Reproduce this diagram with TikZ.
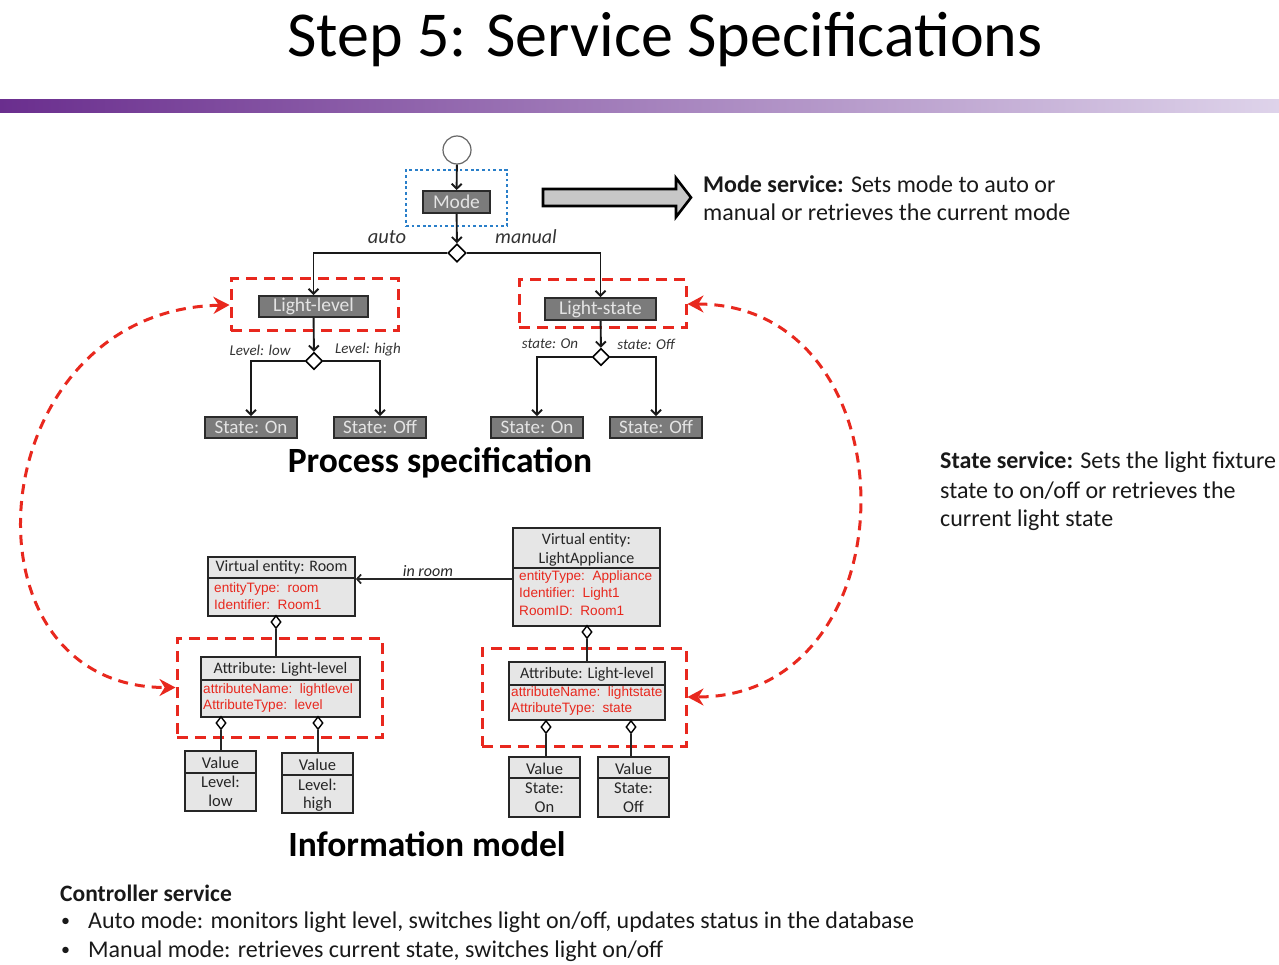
\documentclass[tikz,border=0pt]{standalone}
\usepackage{fontspec}
\setmainfont{Carlito}
\newfontfamily\attrfont{Liberation Sans}
\usetikzlibrary{arrows.meta,shapes.geometric,calc}

\definecolor{procfill}{HTML}{7B7B7B}
\definecolor{procline}{HTML}{2B2B2B}
\definecolor{proctext}{HTML}{E4E4E4}
\definecolor{umlfill}{HTML}{E6E6E6}
\definecolor{svcred}{HTML}{E8281E}
\definecolor{svcblue}{HTML}{2A7FC9}
\definecolor{barleft}{HTML}{6A2E8E}
\definecolor{barmid}{HTML}{9872B2}
\definecolor{barright}{HTML}{DED3EA}

\newcommand\fsz[2]{\fontsize{#1}{#2}\selectfont}

\begin{document}
\begin{tikzpicture}[x=1pt,y=-1pt,
  procbox/.style={draw=procline, fill=procfill, line width=1.8pt, text=proctext,
    font=\fsz{19.5}{21}, inner sep=0pt},
  dec/.style={diamond, draw=black, fill=white, line width=1.6pt,
    minimum width=17, minimum height=17, inner sep=0pt},
  flow/.style={draw=black!90, line width=1.9pt, -{Straight Barb[length=5pt,width=10pt]}},
  redbox/.style={draw=svcred, line width=3pt, dash pattern=on 11pt off 7pt, inner sep=0pt},
  bluebox/.style={draw=svcblue, line width=2.8pt, dash pattern=on 2.8pt off 2.8pt, inner sep=0pt},
  umlbox/.style={draw=black!85, fill=umlfill, line width=1.8pt, inner sep=0pt},
  umlsep/.style={draw=black!85, line width=1.6pt},
  agg/.style={diamond, draw=black, fill=white, line width=1.4pt,
    minimum width=10, minimum height=13, inner sep=0pt},
  link/.style={draw=black!85, line width=1.7pt},
  umlhead/.style={font=\fsz{16}{18}, text=black!85, inner sep=0pt},
  valtext/.style={font=\fsz{16.5}{18}, text=black!85, inner sep=0pt},
  umlattr/.style={font=\attrfont\fsz{13.6}{15}, text=svcred, inner sep=0pt, anchor=west},
  flowlabel/.style={font=\itshape, text=black!80, inner sep=0pt},
  svcarc/.style={draw=svcred, line width=3pt, dash pattern=on 10pt off 7pt,
    {Stealth[length=16pt,width=17pt]}-{Stealth[length=16pt,width=17pt]}},
  desc/.style={font=\fsz{24}{28}, inner sep=0pt, anchor=west, text=black!90},
  heading/.style={font=\bfseries\fsz{35.5}{40}, inner sep=0pt, text=black}
]
\useasboundingbox (0,0) rectangle (1279,965);

% title and banner
\node[font=\fsz{64}{70}, inner sep=0pt] (title) at (665,40) {Step 5: Service Specifications};
\shade[left color=barleft, middle color=barmid, right color=barright] (0,100) rectangle (1279,113);

% ---------------- process specification ----------------
\node[circle, draw=black!60, line width=1.2pt, fill=white, minimum size=28, inner sep=0pt] (start) at (457,150) {};
\node[bluebox, minimum width=101, minimum height=56] (modesvc) at (456.5,198) {};
\node[procbox, minimum width=67, minimum height=22] (mode) at (456.5,202) {Mode};
\node[dec, minimum width=18, minimum height=18] (d1) at (457,253) {};
\node[flowlabel, font=\itshape\fsz{20.5}{22}] (lauto) at (387,237) {auto};
\node[flowlabel, font=\itshape\fsz{20}{22}] (lmanual) at (526,237) {manual};

\node[redbox, minimum width=167, minimum height=52] (redLL) at (314.5,305) {};
\node[redbox, minimum width=167, minimum height=48] (redLS) at (602.5,304) {};
\node[procbox, minimum width=109, minimum height=21] (ll) at (313.5,306.5) {Light-level};
\node[procbox, minimum width=111, minimum height=22] (ls) at (600.5,309) {Light-state};

\draw[flow] (start) -- (mode);
\draw[flow] (mode) -- (d1);
\draw[flow] (d1.west) -| (ll.north);
\draw[flow] (d1.east) -| (ls.north);

\node[dec] (d2) at (314,361) {};
\node[dec] (d3) at (601,357) {};
\draw[flow] (ll) -- (d2);
\draw[flow] (ls) -- (d3);
\node[flowlabel, font=\itshape\fsz{15}{17}] (llow) at (260,350) {Level: low};
\node[flowlabel, font=\itshape\fsz{15}{17}] (lhigh) at (368,350) {Level: high};
\node[flowlabel, font=\itshape\fsz{15}{17}] (son) at (550,344) {state: On};
\node[flowlabel, font=\itshape\fsz{15}{17}] (soff) at (646,344) {state: Off};

\node[procbox, font=\fsz{19}{21}, minimum width=92, minimum height=21] (on1) at (251,427.5) {State: On};
\node[procbox, font=\fsz{19}{21}, minimum width=92, minimum height=21] (off1) at (380,427.5) {State: Off};
\node[procbox, font=\fsz{19}{21}, minimum width=92, minimum height=21] (on2) at (537,427.5) {State: On};
\node[procbox, font=\fsz{19}{21}, minimum width=92, minimum height=21] (off2) at (656,427.5) {State: Off};
\draw[flow] (d2.west) -| (on1.north);
\draw[flow] (d2.east) -| (off1.north);
\draw[flow] (d3.west) -| (on2.north);
\draw[flow] (d3.east) -| (off2.north);

\node[heading] (procspec) at (440,463) {Process specification};

% mode service callout
\draw[fill=black!22, draw=black, line width=2.6pt, line join=miter]
  (543,189) -- (676,189) -- (676,178) -- (691,197.5) -- (676,217) -- (676,206) -- (543,206) -- cycle;
\node[desc] (ms1) at (703,184) {\textbf{Mode service:} Sets mode to auto or};
\node[desc] (ms2) at (703,212) {manual or retrieves the current mode};

% state service text
\node[desc] (ss1) at (940,462) {\textbf{State service:} Sets the light fixture};
\node[desc] (ss2) at (940,491) {state to on/off or retrieves the};
\node[desc] (ss3) at (940,520) {current light state};

% ---------------- information model ----------------
% virtual entity: room
\node[umlbox, minimum width=147, minimum height=59] (room) at (281.5,586.5) {};
\draw[umlsep] (room.west |- 0,578) -- (room.east |- 0,578);
\node[umlhead] (roomh) at (281.5,567.5) {Virtual entity: Room};
\node[umlattr] (roomA) at (214,589) {entityType:\ \ room};
\node[umlattr] (roomB) at (214,605) {Identifier:\ \ Room1};

% virtual entity: light appliance
\node[umlbox, minimum width=147, minimum height=98] (app) at (586.5,577) {};
\draw[umlsep] (app.west |- 0,568) -- (app.east |- 0,568);
\node[umlhead] (apph1) at (586.5,540) {Virtual entity:};
\node[umlhead] (apph2) at (586.5,559) {LightAppliance};
\node[umlattr] (appA) at (519,577) {entityType:\ \ Appliance};
\node[umlattr] (appB) at (519,594) {Identifier:\ \ Light1};
\node[umlattr] (appC) at (519,611) {RoomID:\ \ Room1};

\draw[link, -{Straight Barb[length=4pt,width=9pt]}] (app.west |- 0,579) -- (room.east |- 0,579);
\node[flowlabel, font=\itshape\fsz{16}{18}, text=black!85] (inroom) at (428,571) {in room};

% red frames around the attribute boxes
\node[redbox, minimum width=205, minimum height=99] (redAL) at (279.5,687.5) {};
\node[redbox, minimum width=204, minimum height=98] (redAS) at (584,697) {};

% attribute: light level
\node[umlbox, minimum width=159, minimum height=60] (attL) at (280.5,687) {};
\draw[umlsep] (attL.west |- 0,680) -- (attL.east |- 0,680);
\node[umlhead] (attLh) at (280.5,669) {Attribute: Light-level};
\node[umlattr] (attLA) at (203,690) {attributeName:\ \ lightlevel};
\node[umlattr] (attLB) at (203,706) {AttributeType:\ \ level};

% attribute: light state
\node[umlbox, minimum width=156, minimum height=58] (attS) at (587,691) {};
\draw[umlsep] (attS.west |- 0,685) -- (attS.east |- 0,685);
\node[umlhead] (attSh) at (587,674) {Attribute: Light-level};
\node[umlattr] (attSA) at (511,693) {attributeName:\ \ lightstate};
\node[umlattr] (attSB) at (511,709) {AttributeType:\ \ state};

% values
\node[umlbox, minimum width=71, minimum height=60] (vl1) at (220.5,781) {};
\draw[umlsep] (vl1.west |- 0,773) -- (vl1.east |- 0,773);
\node[valtext] (vl1a) at (220.5,763) {Value};
\node[valtext] (vl1b) at (220.5,782) {Level:};
\node[valtext] (vl1c) at (220.5,801) {low};

\node[umlbox, minimum width=71, minimum height=60] (vl2) at (317.5,783) {};
\draw[umlsep] (vl2.west |- 0,775) -- (vl2.east |- 0,775);
\node[valtext] (vl2a) at (317.5,765) {Value};
\node[valtext] (vl2b) at (317.5,785) {Level:};
\node[valtext] (vl2c) at (317.5,804) {high};

\node[umlbox, minimum width=71, minimum height=60] (vs1) at (544.5,787) {};
\draw[umlsep] (vs1.west |- 0,778) -- (vs1.east |- 0,778);
\node[valtext] (vs1a) at (544.5,769) {Value};
\node[valtext] (vs1b) at (544.5,788) {State:};
\node[valtext] (vs1c) at (544.5,807) {On};

\node[umlbox, minimum width=71, minimum height=60] (vs2) at (633.5,787) {};
\draw[umlsep] (vs2.west |- 0,778) -- (vs2.east |- 0,778);
\node[valtext] (vs2a) at (633.5,769) {Value};
\node[valtext] (vs2b) at (633.5,788) {State:};
\node[valtext] (vs2c) at (633.5,807) {Off};

% aggregation links
\node[agg] (gRoom) at (276,622) {};
\draw[link] (gRoom.south) -- (attL.north -| gRoom.south);
\node[agg] (gApp) at (587,632) {};
\draw[link] (gApp.south) -- (attS.north -| gApp.south);
\node[agg] (gL1) at (221,723) {};
\draw[link] (gL1.south) -- (vl1.north -| gL1.south);
\node[agg] (gL2) at (318,723) {};
\draw[link] (gL2.south) -- (vl2.north -| gL2.south);
\node[agg] (gS1) at (546,727) {};
\draw[link] (gS1.south) -- (vs1.north -| gS1.south);
\node[agg] (gS2) at (631,727) {};
\draw[link] (gS2.south) -- (vs2.north -| gS2.south);

\node[heading] (infomodel) at (427,844) {Information model};

% service links between process steps and attributes
\draw[svcarc] (redLL.west) .. controls +(-250,5) and +(-225,0) .. (redAL.west);
\draw[svcarc] (redLS.east) .. controls +(228,0) and +(228,0) .. (redAS.east);

% controller service notes
\node[desc, font=\bfseries\fsz{23.5}{26}] (cs) at (60,893) {Controller service};
\node[desc, font=\fsz{18}{26}] (b1) at (61,922) {•};
\node[desc] (t1) at (88,922) {Auto mode: monitors light level, switches light on/off, updates status in the database};
\node[desc, font=\fsz{18}{26}] (b2) at (61,951) {•};
\node[desc] (t2) at (88,951) {Manual mode: retrieves current state, switches light on/off};
\end{tikzpicture}
\end{document}
